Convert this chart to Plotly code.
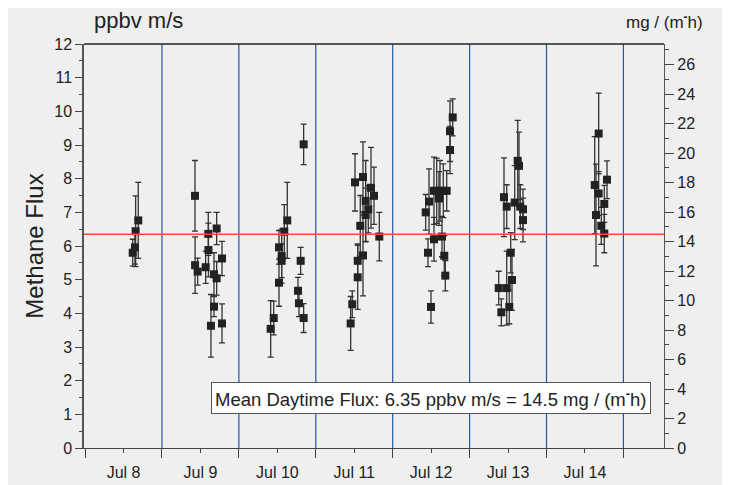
import plotly.graph_objects as go

# ---- data ----
times = [
    "2009-07-08 14:52", "2009-07-08 15:34", "2009-07-08 15:47", "2009-07-08 16:36",
    "2009-07-09 10:18", "2009-07-09 10:20", "2009-07-09 11:08", "2009-07-09 13:38",
    "2009-07-09 14:27", "2009-07-09 14:30", "2009-07-09 15:17", "2009-07-09 16:14",
    "2009-07-09 16:14", "2009-07-09 17:04", "2009-07-09 17:04", "2009-07-09 18:44",
    "2009-07-09 18:44",
    "2009-07-10 09:55", "2009-07-10 10:52", "2009-07-10 12:31", "2009-07-10 12:31",
    "2009-07-10 13:21", "2009-07-10 13:21", "2009-07-10 14:10", "2009-07-10 15:06",
    "2009-07-10 18:27", "2009-07-10 18:45", "2009-07-10 19:17", "2009-07-10 20:13",
    "2009-07-10 20:13",
    "2009-07-11 10:53", "2009-07-11 11:23", "2009-07-11 12:14", "2009-07-11 13:05",
    "2009-07-11 13:05", "2009-07-11 13:53", "2009-07-11 14:44", "2009-07-11 14:44",
    "2009-07-11 15:34", "2009-07-11 15:34", "2009-07-11 16:23", "2009-07-11 17:14",
    "2009-07-11 18:10", "2009-07-11 19:49",
    "2009-07-12 10:18", "2009-07-12 11:01", "2009-07-12 11:20", "2009-07-12 11:57",
    "2009-07-12 12:53", "2009-07-12 12:53", "2009-07-12 13:44", "2009-07-12 14:27",
    "2009-07-12 14:46", "2009-07-12 15:23", "2009-07-12 15:47", "2009-07-12 16:06",
    "2009-07-12 16:25", "2009-07-12 16:51", "2009-07-12 17:53", "2009-07-12 17:53",
    "2009-07-12 18:44",
    "2009-07-13 09:05", "2009-07-13 09:54", "2009-07-13 10:44", "2009-07-13 11:35",
    "2009-07-13 11:35", "2009-07-13 12:23", "2009-07-13 12:50", "2009-07-13 13:14",
    "2009-07-13 14:05", "2009-07-13 15:01", "2009-07-13 15:25", "2009-07-13 15:49",
    "2009-07-13 16:40", "2009-07-13 16:40",
    "2009-07-14 15:03", "2009-07-14 15:27", "2009-07-14 16:17", "2009-07-14 16:17",
    "2009-07-14 17:06", "2009-07-14 18:02", "2009-07-14 18:02", "2009-07-14 18:53",
]
flux = [
    5.80, 5.96, 6.44, 6.76,
    7.49, 5.43, 5.24, 5.37,
    6.36, 5.88, 3.63, 5.16,
    4.20, 6.52, 5.04, 5.63,
    3.70,
    3.54, 3.86, 4.91, 5.96,
    5.70, 5.56, 6.43, 6.76,
    4.67, 4.30, 5.56, 9.02,
    3.86,
    3.70, 4.27, 7.89, 5.07,
    5.56, 6.60, 8.05, 5.72,
    7.34, 6.92, 7.09, 7.73,
    7.49, 6.28,
    7.00, 5.80, 7.32, 4.19,
    6.20, 7.64, 7.64, 7.41,
    7.64, 6.28, 7.64, 5.71,
    5.12, 7.64, 8.85, 9.41,
    9.82,
    4.75, 4.03, 7.45, 7.17,
    4.75, 4.19, 5.80, 4.99,
    7.29, 8.53, 8.38, 7.17,
    7.09, 6.77,
    7.81, 6.92, 9.34, 7.56,
    6.60, 7.25, 6.37, 7.97,
]
flux_err = [
    0.40, 0.50, 1.05, 1.13,
    1.05, 0.84, 0.40, 0.48,
    0.64, 0.80, 0.93, 0.64,
    0.30, 0.48, 0.50, 0.51,
    0.58,
    0.84, 0.50, 0.70, 0.50,
    0.80, 0.50, 0.80, 1.13,
    0.40, 0.40, 0.40, 0.60,
    0.43,
    0.80, 0.40, 0.85, 0.95,
    0.50, 0.90, 1.04, 1.20,
    1.20, 0.80, 0.70, 1.20,
    0.85, 0.72,
    0.53, 0.41, 0.97, 0.48,
    0.65, 1.00, 0.97, 0.80,
    0.90, 0.60, 0.80, 0.60,
    0.45, 0.60, 0.70, 0.90,
    0.55,
    0.50, 0.40, 1.17, 0.65,
    1.10, 0.50, 0.60, 0.90,
    1.10, 1.20, 1.00, 0.65,
    0.60, 0.65,
    1.44, 1.51, 1.20, 0.65,
    0.55, 0.55, 0.57, 0.56,
]

mean_flux = 6.35          # ppbv m/s
mean_flux_mass = 14.5     # mg / (m^2 h)
conv = mean_flux_mass / mean_flux

day_lines = ["2009-07-09", "2009-07-10", "2009-07-11", "2009-07-12",
             "2009-07-13", "2009-07-14", "2009-07-15"]
label_times = ["2009-07-08 12:00", "2009-07-09 12:00", "2009-07-10 12:00",
               "2009-07-11 12:00", "2009-07-12 12:00", "2009-07-13 12:00",
               "2009-07-14 12:00"]
label_text = ["Jul 8", "Jul 9", "Jul 10", "Jul 11", "Jul 12", "Jul 13", "Jul 14"]
x_range = ["2009-07-07 23:40", "2009-07-15 12:40"]
y_max = 12

FONT = "Liberation Sans, Arial, sans-serif"
BG = "#efefef"

# page body has an 8px margin: figure is sized/margined to compensate
OFF = 8
W, H = 730 - OFF, 485 - OFF
ML, MR, MT, MB = 84 - OFF, 66, 44 - OFF, 37
PW, PH = W - ML - MR, H - MT - MB


def px_x(x):  # reference pixel -> paper x
    return (x - 84) / PW


def px_y(y):  # reference pixel -> paper y
    return (448 - y) / PH


fig = go.Figure()

fig.add_trace(go.Scatter(
    x=times, y=flux, mode="markers",
    marker=dict(symbol="square", size=8, color="#222222"),
    error_y=dict(type="data", array=flux_err, visible=True,
                 color="#333333", thickness=1.3, width=3),
    showlegend=False, hoverinfo="x+y",
))

# secondary (right) axis carrier trace
fig.add_trace(go.Scatter(
    x=[x_range[0]], y=[0], yaxis="y2", mode="markers",
    marker=dict(opacity=0), showlegend=False, hoverinfo="skip",
))

shapes = []
for d in day_lines:
    shapes.append(dict(type="line", xref="x", yref="paper", x0=d, x1=d,
                       y0=0, y1=1, line=dict(color="#2557a0", width=1.2),
                       layer="below"))
shapes.append(dict(type="line", xref="paper", yref="y", x0=0, x1=1,
                   y0=mean_flux, y1=mean_flux,
                   line=dict(color="#ea5428", width=1.5)))
shapes.append(dict(type="line", xref="paper", yref="paper", x0=0, x1=1,
                   y0=1, y1=1, line=dict(color="#222", width=1.5)))
fig.update_layout(shapes=shapes)

fig.update_layout(
    width=W, height=H,
    margin=dict(l=ML, r=MR, t=MT, b=MB, autoexpand=False),
    paper_bgcolor=BG, plot_bgcolor=BG,
    font=dict(family=FONT, size=16, color="#222222"),
    xaxis=dict(
        type="date", range=x_range, automargin=False,
        tickvals=label_times, ticktext=label_text,
        ticks="outside", ticklen=4, tickcolor="#444", tickwidth=1,
        minor=dict(tickvals=day_lines + ["2009-07-08"], ticks="outside",
                   ticklen=9, tickcolor="#444", tickwidth=1),
        showgrid=False, zeroline=False,
        showline=True, linecolor="#444", linewidth=1.2, mirror=False,
        tickfont=dict(size=16), ticklabelstandoff=6,
    ),
    yaxis=dict(
        range=[0, y_max], dtick=1, tick0=0, automargin=False,
        ticks="outside", ticklen=7, tickcolor="#444", tickwidth=1,
        minor=dict(dtick=0.5, ticks="outside", ticklen=3, tickcolor="#444"),
        showgrid=False, zeroline=False,
        showline=True, linecolor="#555", linewidth=1.5,
        tickfont=dict(size=16),
        title=dict(text="Methane Flux", font=dict(size=24), standoff=4),
    ),
    yaxis2=dict(
        overlaying="y", side="right", anchor="x", automargin=False,
        range=[0, y_max * conv], dtick=2, tick0=0,
        ticks="outside", ticklen=9, tickcolor="#444", tickwidth=1,
        minor=dict(dtick=1, ticks="outside", ticklen=4, tickcolor="#444"),
        showgrid=False, zeroline=False,
        showline=True, linecolor="#555", linewidth=1.2,
        tickfont=dict(size=16),
    ),
)

fig.add_annotation(
    xref="paper", yref="paper", x=px_x(431), y=px_y(397.5),
    text="Mean Daytime Flux: 6.35 ppbv m/s = 14.5 mg / (m<sup><b>-</b></sup>h)",
    showarrow=False, font=dict(size=18.5, color="#222"),
    bgcolor="#ffffff", bordercolor="#555", borderwidth=1, borderpad=3,
    xanchor="center", yanchor="middle",
)
fig.add_annotation(
    xref="paper", yref="paper", x=px_x(138), y=px_y(21),
    text="ppbv m/s", showarrow=False, font=dict(size=22, color="#222"),
    xanchor="center", yanchor="middle",
)
fig.add_annotation(
    xref="paper", yref="paper", x=px_x(664), y=px_y(21),
    text="mg / (m<sup><b>-</b></sup>h)", showarrow=False,
    font=dict(size=17, color="#222"),
    xanchor="center", yanchor="middle",
)

fig.write_html("out.html")
